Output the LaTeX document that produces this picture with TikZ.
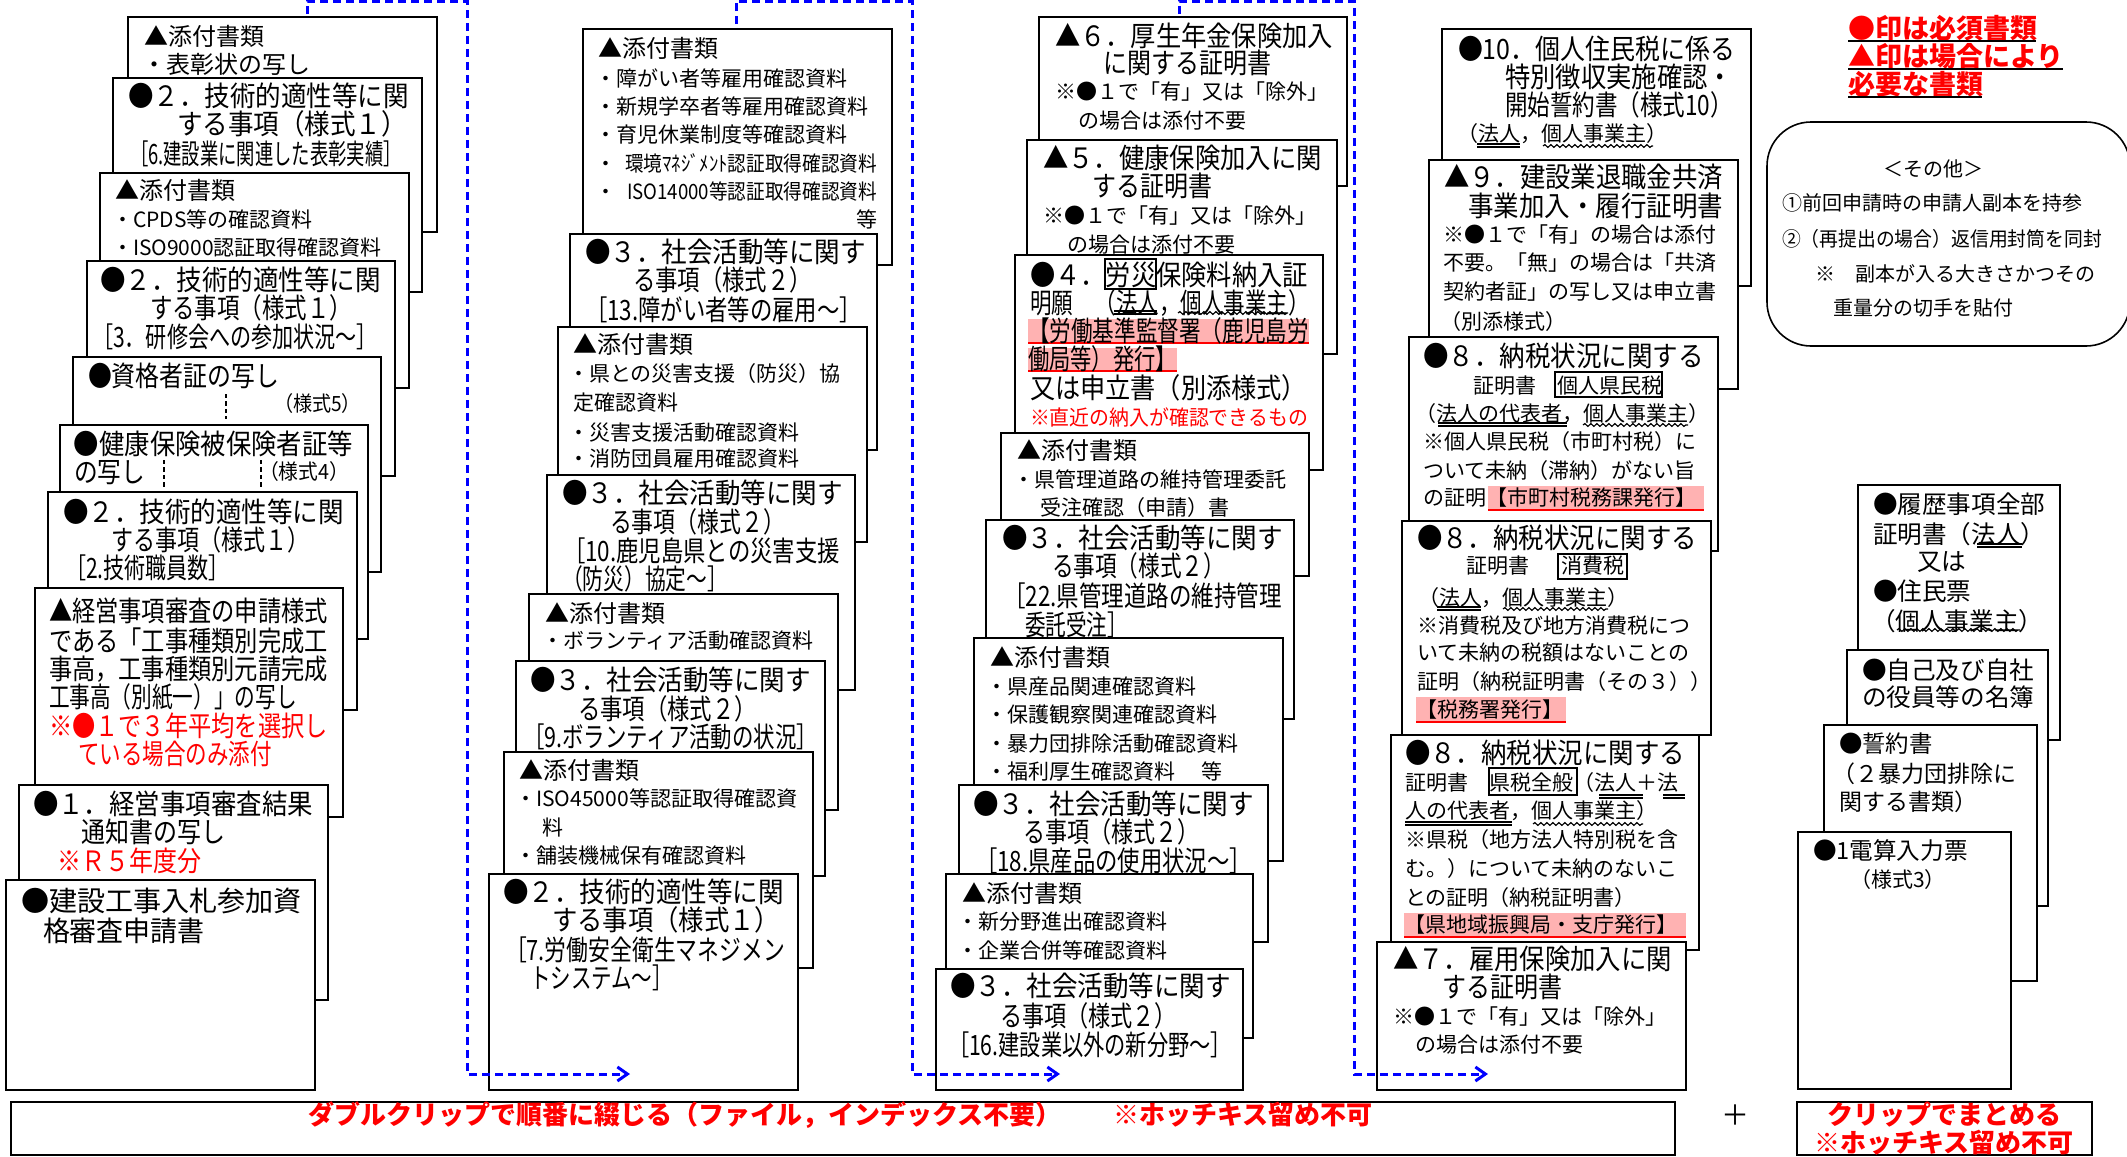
\documentclass[tikz,border=0pt]{standalone}
\usepackage{fontspec}
\usepackage{graphicx}
\usetikzlibrary{arrows.meta,decorations.pathmorphing}
\newfontfamily\jp{Noto Sans CJK JP}
\newcounter{ln}
\newcommand\Ln[5][]{\stepcounter{ln}\node[lt,font=\jp\fontsize{#2}{#2}\selectfont,#1] (ln\theln) at (#3,{#4+0.76*#2}) {#5};}
\newcommand\RW[2]{\resizebox{#1pt}{\height}{#2}}
\newcommand\Pp[4]{\draw[paper] (#1,#2) rectangle (#3,#4);}
\newcommand\Dbl[3]{\draw[uline] (#1,#2) -- (#3,#2); \draw[uline] (#1,{#2+3}) -- (#3,{#2+3});}
\newcommand\Wav[3]{\draw[wline] (#1,#2) -- (#3,#2);}
\newcommand\Hlt[4]{\fill[hl] (#1,#2) rectangle (#3,#4); \draw[hlline] (#1,#4) -- (#3,#4);}
\newcommand\Bxw[4]{\draw[wbox] (#1,#2) rectangle (#3,#4);}
\tikzset{
  lt/.style={anchor=base west, inner sep=0pt, outer sep=0pt},
  paper/.style={draw=black, fill=white, line width=1.3pt},
  uline/.style={line width=0.6pt},
  wline/.style={line width=0.6pt, decorate, decoration={snake, amplitude=0.7pt, segment length=3pt}},
  hl/.style={fill=red!30},
  hlline/.style={draw=red, line width=1pt},
  wbox/.style={draw=black, line width=0.8pt},
  vdash/.style={draw=black, line width=0.9pt, dash pattern=on 2.2pt off 1.5pt},
  flow/.style={draw=blue, line width=1.5pt, dash pattern=on 4pt off 2.5pt, -{Straight Barb[length=5pt,width=7pt]}},
}
\begin{document}
\begin{tikzpicture}[x=0.5pt,y=-0.5pt]
\useasboundingbox (0,0) rectangle (2127,1157);
\fill[white] (0,0) rectangle (2127,1157);
% ---------------- column 1
\Pp{128}{17}{437}{232}
\Ln{12}{144}{36}{▲添付書類}
\Ln{12}{142}{64}{・表彰状の写し}
\Pp{113}{78}{422}{292}
\Ln{14}{128}{96}{\RW{140.5}{●２．技術的適性等に関}}
\Ln{14}{177}{124}{\RW{115}{する事項（様式１）}}
\Ln{14}{130}{154}{\RW{136}{［6.建設業に関連した表彰実績］}}
\Pp{100}{173}{409}{388}
\Ln{12}{115}{190}{▲添付書類}
\Ln{10.5}{112}{220}{・CPDS等の確認資料}
\Ln{10.5}{112}{248}{・ISO9000認証取得確認資料}
\Pp{87}{261}{395}{476}
\Ln{14}{100}{280}{\RW{140.5}{●２．技術的適性等に関}}
\Ln{14}{150}{308}{\RW{101}{する事項（様式１）}}
\Ln{14}{92}{337}{\RW{143}{［3．研修会への参加状況～］}}
\Pp{73}{357}{381}{572}
\Ln{14}{88}{376}{\RW{95.5}{●資格者証の写し}}
\Ln{10.5}{274}{404}{\RW{43.5}{（様式5）}}
\draw[vdash] (226,394) -- (226,419);
\Pp{60}{425}{368}{639}
\Ln{14}{74}{444}{\RW{139.5}{●健康保険被保険者証等}}
\Ln{14}{74}{472}{\RW{35.5}{の写し}}
\Ln{10.5}{259}{472}{\RW{45}{（様式4）}}
\draw[vdash] (164,460) -- (164,487);
\draw[vdash] (261,460) -- (261,487);
\Pp{48}{492}{357}{710}
\Ln{14}{63}{512}{\RW{140.5}{●２．技術的適性等に関}}
\Ln{14}{112}{540}{\RW{99}{する事項（様式１）}}
\Ln{14}{65}{568}{\RW{82.5}{［2.技術職員数］}}
\Pp{35}{588}{343}{817}
\Ln{14}{49}{611}{\RW{139.5}{▲経営事項審査の申請様式}}
\Ln{14}{49}{641}{\RW{139.5}{である「工事種類別完成工}}
\Ln{14}{49}{669}{\RW{139.5}{事高，工事種類別元請完成}}
\Ln{14}{49}{697}{\RW{124}{工事高（別紙一）」の写し}}
\Ln[text=red]{14}{49}{726}{\RW{139.5}{※●１で３年平均を選択し}}
\Ln[text=red]{14}{78}{754}{\RW{97}{ている場合のみ添付}}
\Pp{19}{785}{328}{1000}
\Ln{14}{33}{804}{\RW{140}{●１．経営事項審査結果}}
\Ln{14}{82}{832}{\RW{72}{通知書の写し}}
\Ln[text=red]{14}{58}{861}{\RW{72}{※Ｒ５年度分}}
\Pp{6}{880}{315}{1090}
\Ln{14}{21}{901}{\RW{140.5}{●建設工事入札参加資}}
\Ln{14}{43}{931}{\RW{81}{格審査申請書}}
% ---------------- column 2
\Pp{583}{29}{892}{265}
\Ln{12}{598}{48}{▲添付書類}
\Ln{10.5}{595}{79}{・障がい者等雇用確認資料}
\Ln{10.5}{595}{107}{・新規学卒者等雇用確認資料}
\Ln{10.5}{595}{135}{・育児休業制度等確認資料}
\Ln{10.5}{595}{164}{・}
\Ln{10.5}{625}{164}{\RW{126}{環境ﾏﾈｼﾞﾒﾝﾄ認証取得確認資料}}
\Ln{10.5}{595}{192}{・}
\Ln{10.5}{627}{192}{\RW{125}{ISO14000等認証取得確認資料}}
\Ln{10.5}{856}{220}{等}
\Pp{570}{234}{877}{450}
\Ln{14}{585}{252}{\RW{140.5}{●３．社会活動等に関す}}
\Ln{14}{633}{280}{\RW{89.5}{る事項（様式２）}}
\Ln{14}{585}{310}{\RW{138.5}{［13.障がい者等の雇用～］}}
\Pp{558}{327}{867}{542}
\Ln{12}{573}{344}{▲添付書類}
\Ln{10.5}{568}{374}{・県との災害支援（防災）協}
\Ln{10.5}{573}{403}{定確認資料}
\Ln{10.5}{568}{433}{・災害支援活動確認資料}
\Ln{10.5}{568}{459}{・消防団員雇用確認資料}
\Pp{547}{475}{855}{690}
\Ln{14}{562}{493}{\RW{140.5}{●３．社会活動等に関す}}
\Ln{14}{610}{522}{\RW{87.5}{る事項（様式２）}}
\Ln{14}{563}{551}{\RW{138.5}{［10.鹿児島県との災害支援}}
\Ln{14}{562}{579}{\RW{83}{（防災）協定～］}}
\Pp{529}{594}{838}{810}
\Ln{12}{545}{613}{▲添付書類}
\Ln{10.5}{542}{641}{・ボランティア活動確認資料}
\Pp{516}{661}{825}{876}
\Ln{14}{530}{680}{\RW{140.5}{●３．社会活動等に関す}}
\Ln{14}{578}{709}{\RW{89.5}{る事項（様式２）}}
\Ln{14}{523}{737}{\RW{147.5}{［9.ボランティア活動の状況］}}
\Pp{504}{752}{813}{968}
\Ln{12}{519}{770}{▲添付書類}
\Ln{10.5}{515}{799}{\RW{141.5}{・ISO45000等認証取得確認資}}
\Ln{10.5}{542}{828}{料}
\Ln{10.5}{515}{856}{・舗装機械保有確認資料}
\Pp{489}{874}{798}{1090}
\Ln{14}{503}{892}{\RW{140.5}{●２．技術的適性等に関}}
\Ln{14}{552}{920}{\RW{114}{する事項（様式１）}}
\Ln{14}{505}{950}{\RW{140}{［7.労働安全衛生マネジメン}}
\Ln{14}{530}{978}{\RW{71.5}{トシステム～］}}
% ---------------- column 3
\Pp{1039}{17}{1347}{186}
\Ln{14}{1055}{36}{\RW{139}{▲６．厚生年金保険加入}}
\Ln{14}{1103}{63}{\RW{84}{に関する証明書}}
\Ln{10.5}{1055}{92}{※●１で「有」又は「除外」}
\Ln{10.5}{1078}{121}{の場合は添付不要}
\Pp{1027}{140}{1337}{354}
\Ln{14}{1043}{158}{\RW{139.5}{▲５．健康保険加入に関}}
\Ln{14}{1092}{186}{\RW{60}{する証明書}}
\Ln{10.5}{1043}{216}{※●１で「有」又は「除外」}
\Ln{10.5}{1067}{245}{の場合は添付不要}
\Pp{1015}{255}{1323}{470}
\Ln{14}{1030}{275}{\RW{139}{●４．労災保険料納入証}}
\Bxw{1105}{259}{1156}{289}
\Ln{14}{1030}{303}{\RW{140}{明願　（法人，個人事業主）}}
\Dbl{1114}{311}{1157}
\Wav{1178}{313}{1288}
\Hlt{1028}{319}{1309}{343}
\Ln{14}{1028}{331}{\RW{140.5}{【労働基準監督署（鹿児島労}}
\Hlt{1028}{348}{1177}{371}
\Ln{14}{1028}{359}{\RW{74.5}{働局等）発行】}}
\Ln{14}{1030}{388}{\RW{138.5}{又は申立書（別添様式）}}
\Ln[text=red]{10.5}{1030}{418}{\RW{139}{※直近の納入が確認できるもの}}
\Pp{1001}{433}{1309}{576}
\Ln{12}{1017}{450}{▲添付書類}
\Ln{10.5}{1013}{480}{・県管理道路の維持管理委託}
\Ln{10.5}{1040}{508}{受注確認（申請）書}
\Pp{986}{520}{1294}{719}
\Ln{14}{1002}{538}{\RW{140.5}{●３．社会活動等に関す}}
\Ln{14}{1052}{566}{\RW{86.5}{る事項（様式２）}}
\Ln{14}{1003}{596}{\RW{139.5}{［22.県管理道路の維持管理}}
\Ln{14}{1025}{625}{\RW{51.5}{委託受注］}}
\Pp{974}{638}{1283}{861}
\Ln{12}{990}{657}{▲添付書類}
\Ln{10.5}{986}{687}{・県産品関連確認資料}
\Ln{10.5}{986}{715}{・保護観察関連確認資料}
\Ln{10.5}{986}{744}{・暴力団排除活動確認資料}
\Ln{10.5}{986}{772}{・福利厚生確認資料}
\Ln{10.5}{1201}{772}{等}
\Pp{959}{785}{1268}{942}
\Ln{14}{973}{804}{\RW{140.5}{●３．社会活動等に関す}}
\Ln{14}{1023}{832}{\RW{88}{る事項（様式２）}}
\Ln{14}{975}{861}{\RW{138.5}{［18.県産品の使用状況～］}}
\Pp{946}{874}{1253}{1038}
\Ln{12}{962}{893}{▲添付書類}
\Ln{10.5}{957}{922}{・新分野進出確認資料}
\Ln{10.5}{957}{951}{・企業合併等確認資料}
\Pp{936}{969}{1243}{1090}
\Ln{14}{950}{986}{\RW{140.5}{●３．社会活動等に関す}}
\Ln{14}{1000}{1016}{\RW{88.5}{る事項（様式２）}}
\Ln{14}{948}{1045}{\RW{142}{［16.建設業以外の新分野～］}}
% ---------------- column 4
\Pp{1442}{29}{1751}{286}
\Ln{14}{1458}{49}{\RW{138.5}{●10．個人住民税に係る}}
\Ln{14}{1505}{77}{\RW{114}{特別徴収実施確認・}}
\Ln{14}{1505}{105}{\RW{114}{開始誓約書（様式10）}}
\Ln{10.5}{1457}{134}{（法人，個人事業主）}
\Dbl{1477}{144}{1520}
\Wav{1543}{146}{1653}
\Pp{1429}{160}{1738}{389}
\Ln{14}{1444}{177}{\RW{139.5}{▲９．建設業退職金共済}}
\Ln{14}{1468}{206}{\RW{127.5}{事業加入・履行証明書}}
\Ln{10.5}{1443}{235}{※●１で「有」の場合は添付}
\Ln{10.5}{1443}{263}{不要。「無」の場合は「共済}
\Ln{10.5}{1443}{292}{契約者証」の写し又は申立書}
\Ln{10.5}{1440}{322}{（別添様式）}
\Pp{1409}{337}{1718}{551}
\Ln{14}{1423}{356}{\RW{140.5}{●８．納税状況に関する}}
\Ln{10.5}{1473}{386}{証明書　個人県民税}
\Bxw{1555}{372}{1662}{397}
\Ln{10.5}{1415}{414}{（法人の代表者，個人事業主）}
\Dbl{1438}{423}{1567}
\Wav{1583}{425}{1688}
\Ln{10.5}{1423}{442}{※個人県民税（市町村税）に}
\Ln{10.5}{1423}{471}{ついて未納（滞納）がない旨}
\Hlt{1488}{486}{1704}{510}
\Ln{10.5}{1423}{498}{の証明【市町村税務課発行】}
\Pp{1402}{521}{1711}{735}
\Ln{14}{1417}{538}{\RW{140}{●８．納税状況に関する}}
\Ln{10.5}{1466}{566}{証明書}
\Ln{10.5}{1561}{566}{消費税}
\Bxw{1558}{554}{1627}{579}
\Ln{10.5}{1418}{598}{（法人，個人事業主）}
\Dbl{1437}{607}{1481}
\Wav{1503}{609}{1608}
\Ln{10.5}{1417}{626}{※消費税及び地方消費税につ}
\Ln{10.5}{1417}{653}{いて未納の税額はないことの}
\Ln{10.5}{1417}{682}{証明（納税証明書（その３））}
\Hlt{1416}{697}{1566}{722}
\Ln{10.5}{1416}{710}{【税務署発行】}
\Pp{1391}{735}{1699}{950}
\Ln{14}{1405}{753}{\RW{140}{●８．納税状況に関する}}
\Ln{10.5}{1405}{783}{証明書　県税全般（法人＋法}
\Bxw{1489}{768}{1577}{795}
\Dbl{1599}{795}{1643}
\Dbl{1663}{795}{1685}
\Ln{10.5}{1405}{811}{人の代表者，個人事業主）}
\Dbl{1405}{822}{1512}
\Wav{1533}{824}{1643}
\Ln{10.5}{1405}{840}{※県税（地方法人特別税を含}
\Ln{10.5}{1405}{869}{む。）について未納のないこ}
\Ln{10.5}{1405}{898}{との証明（納税証明書）}
\Hlt{1404}{913}{1686}{937}
\Ln{10.5}{1404}{925}{【県地域振興局・支庁発行】}
\Pp{1377}{942}{1686}{1090}
\Ln{14}{1393}{959}{\RW{139.5}{▲７．雇用保険加入に関}}
\Ln{14}{1442}{987}{\RW{60}{する証明書}}
\Ln{10.5}{1393}{1017}{※●１で「有」又は「除外」}
\Ln{10.5}{1415}{1045}{の場合は添付不要}
% ---------------- column 5
\Ln[text=red]{13.5}{1848}{28}{\bfseries ●印は必須書類}
\Ln[text=red]{13.5}{1848}{56}{\bfseries ▲印は場合により}
\Ln[text=red]{13.5}{1848}{84}{\bfseries 必要な書類}
\draw[line width=0.9pt] (1848,41) -- (2036,41);
\draw[line width=0.9pt] (1848,69) -- (2063,69);
\draw[line width=0.9pt] (1848,97) -- (1982,97);
\draw[line width=0.8pt, rounded corners=22pt] (1767,122) rectangle (2130,346);
\Ln[anchor=base]{10}{1933}{169}{＜その他＞}
\Ln{10}{1782}{203}{①前回申請時の申請人副本を持参}
\Ln{10}{1782}{239}{\RW{160}{②（再提出の場合）返信用封筒を同封}}
\Ln{10}{1815}{274}{※　副本が入る大きさかつその}
\Ln{10}{1833}{308}{重量分の切手を貼付}
\Pp{1858}{485}{2060}{740}
\Ln{12.3}{1873}{504}{●履歴事項全部}
\Ln{12.3}{1873}{534}{証明書（法人）}
\Dbl{1977}{544}{2022}
\Ln{12.3}{1917}{561}{又は}
\Ln{12.3}{1873}{591}{●住民票}
\Ln{12.3}{1871}{621}{（個人事業主）}
\Wav{1897}{630}{2020}
\Pp{1847}{650}{2048}{906}
\Ln{12.3}{1862}{670}{●自己及び自社}
\Ln{12.3}{1862}{697}{の役員等の名簿}
\Pp{1824}{725}{2037}{981}
\Ln{11.7}{1839}{744}{●誓約書}
\Ln{11.5}{1832}{774}{（２暴力団排除に}
\Ln{11.5}{1839}{802}{関する書類）}
\Pp{1798}{832}{2011}{1089}
\Ln{11.8}{1813}{851}{●1電算入力票}
\Ln{10.5}{1850}{880}{（様式3）}
% ---------------- bottom
\draw[line width=1.3pt] (11,1102) rectangle (1675,1155);
\Ln[text=red]{13}{308}{1115}{\bfseries ダブルクリップで順番に綴じる（ファイル，インデックス不要）}
\Ln[text=red]{13}{1113}{1115}{\bfseries ※ホッチキス留め不可}
\Ln[anchor=base]{14}{1735}{1115}{＋}
\draw[line width=1.3pt] (1797,1102) rectangle (2092,1155);
\Ln[text=red,anchor=base]{13}{1944}{1115}{\bfseries クリップでまとめる}
\Ln[text=red,anchor=base]{13}{1944}{1143}{\bfseries ※ホッチキス留め不可}
% ---------------- flow arrows
\coordinate (f1a) at (307,14); \coordinate (f1b) at (467,1);
\coordinate (f1c) at (467,1074); \coordinate (f1d) at (630,1074);
\coordinate (f2a) at (736,24); \coordinate (f2b) at (912,1);
\coordinate (f2c) at (912,1074); \coordinate (f2d) at (1060,1074);
\coordinate (f3a) at (1179,14); \coordinate (f3b) at (1354,1);
\coordinate (f3c) at (1354,1074); \coordinate (f3d) at (1488,1074);
\draw[flow] (f1a) |- (f1b) -- (f1c) -- (f1d);
\draw[flow] (f2a) |- (f2b) -- (f2c) -- (f2d);
\draw[flow] (f3a) |- (f3b) -- (f3c) -- (f3d);
\end{tikzpicture}
\end{document}
